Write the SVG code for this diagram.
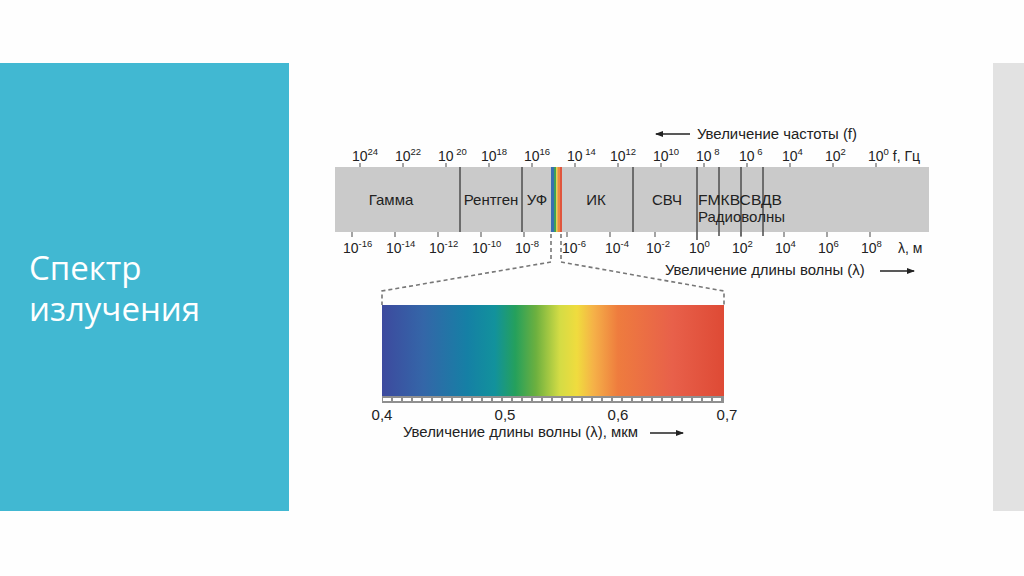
<svg xmlns="http://www.w3.org/2000/svg" width="1024" height="576" viewBox="0 0 1024 576">
<defs>
<style>
.t{font-family:"Liberation Sans",Arial,sans-serif;fill:#222;font-size:14px}
.s{font-size:9.5px}
.b{font-size:15px}
.l{font-size:14.9px}
.tick{stroke:#666;stroke-width:1.2}
.div{stroke:#555;stroke-width:1.6}
.dash{fill:none;stroke:#777;stroke-width:1.6;stroke-dasharray:4 3}
.arr{stroke:#222;stroke-width:1.3;fill:none}
</style>
<linearGradient id="vis" x1="0" x2="1" y1="0" y2="0">
<stop offset="0" stop-color="#3d4a9e"/>
<stop offset="0.12" stop-color="#3466a8"/>
<stop offset="0.25" stop-color="#1580a5"/>
<stop offset="0.33" stop-color="#12929c"/>
<stop offset="0.39" stop-color="#25a05c"/>
<stop offset="0.45" stop-color="#6cb03f"/>
<stop offset="0.52" stop-color="#d4dc45"/>
<stop offset="0.57" stop-color="#f0dc3e"/>
<stop offset="0.62" stop-color="#f5b048"/>
<stop offset="0.69" stop-color="#ee7c3e"/>
<stop offset="0.85" stop-color="#e8604a"/>
<stop offset="1" stop-color="#de4a35"/>
</linearGradient>
<marker id="ah" markerWidth="8" markerHeight="6" refX="7" refY="3" orient="auto" markerUnits="userSpaceOnUse">
<path d="M0,0 L8,3 L0,6 Z" fill="#222"/>
</marker>
</defs>
<rect width="1024" height="576" fill="#fefefe"/>
<rect id="left-panel" x="0" y="63" width="289" height="448" fill="#41b8d2"/>
<rect id="right-panel" x="993" y="63" width="31" height="448" fill="#e2e2e2"/>
<g id="title" font-family="'Open Sans','Noto Sans',sans-serif" font-size="33" fill="#ffffff">
<text x="29" y="280">Спектр</text>
<text x="29" y="321">излучения</text>
</g>

<g id="freq-axis">
<line class="arr" x1="690" y1="134" x2="656" y2="134" marker-end="url(#ah)"/>
<text class="t l" x="697" y="139">Увеличение частоты (f)</text>
<g class="tick">
<line x1="360" y1="163" x2="360" y2="168"/><line x1="403" y1="163" x2="403" y2="168"/><line x1="446" y1="163" x2="446" y2="168"/><line x1="489" y1="163" x2="489" y2="168"/><line x1="532" y1="163" x2="532" y2="168"/><line x1="575" y1="163" x2="575" y2="168"/><line x1="618" y1="163" x2="618" y2="168"/><line x1="661" y1="163" x2="661" y2="168"/><line x1="704" y1="163" x2="704" y2="168"/><line x1="747" y1="163" x2="747" y2="168"/><line x1="790" y1="163" x2="790" y2="168"/><line x1="833" y1="163" x2="833" y2="168"/><line x1="876" y1="163" x2="876" y2="168"/>
</g>
<text class="t" x="352" y="161">10<tspan class="s" dy="-6">24</tspan></text>
<text class="t" x="395" y="161">10<tspan class="s" dy="-6">22</tspan></text>
<text class="t" x="438" y="161">10<tspan class="s" dy="-6"> 20</tspan></text>
<text class="t" x="481" y="161">10<tspan class="s" dy="-6">18</tspan></text>
<text class="t" x="524" y="161">10<tspan class="s" dy="-6">16</tspan></text>
<text class="t" x="567" y="161">10<tspan class="s" dy="-6"> 14</tspan></text>
<text class="t" x="610" y="161">10<tspan class="s" dy="-6">12</tspan></text>
<text class="t" x="653" y="161">10<tspan class="s" dy="-6">10</tspan></text>
<text class="t" x="696" y="161">10<tspan class="s" dy="-6"> 8</tspan></text>
<text class="t" x="739" y="161">10<tspan class="s" dy="-6"> 6</tspan></text>
<text class="t" x="782" y="161">10<tspan class="s" dy="-6">4</tspan></text>
<text class="t" x="825" y="161">10<tspan class="s" dy="-6">2</tspan></text>
<text class="t" x="868" y="161">10<tspan class="s" dy="-6">0</tspan><tspan dy="6"> f, Гц</tspan></text>
</g>

<g id="band">
<rect x="335" y="167" width="594" height="65" fill="#cacaca"/>
<g class="div">
<line x1="460" y1="167" x2="460" y2="232"/>
<line x1="522" y1="167" x2="522" y2="232"/>
<line x1="633" y1="167" x2="633" y2="232"/>
<line x1="697" y1="167" x2="697" y2="240"/>
<line x1="719" y1="167" x2="719" y2="236"/>
<line x1="741" y1="167" x2="741" y2="236"/>
<line x1="763" y1="167" x2="763" y2="236"/>
</g>
<rect x="551" y="167" width="3" height="65" fill="#3a6fb0"/>
<rect x="554" y="167" width="2" height="65" fill="#3fa05a"/>
<rect x="556" y="167" width="1.5" height="65" fill="#e2d64a"/>
<rect x="557.5" y="167" width="2.5" height="65" fill="#ef8a3e"/>
<rect x="560" y="167" width="2" height="65" fill="#e0553c"/>
</g>
<g id="labels">
<text class="t b" x="391" y="205" text-anchor="middle">Гамма</text>
<text class="t b" x="491" y="205" text-anchor="middle">Рентген</text>
<text class="t b" x="537" y="205" text-anchor="middle">УФ</text>
<text class="t b" x="596" y="205" text-anchor="middle">ИК</text>
<text class="t b" x="667" y="205" text-anchor="middle">СВЧ</text>
<text class="t b" x="698" y="205" textLength="84" lengthAdjust="spacingAndGlyphs">FMКВСВДВ</text>
<text class="t b" x="698" y="222">Радиоволны</text>
</g>

<g id="wave-axis">
<g class="tick">
<line x1="352" y1="232" x2="352" y2="237"/><line x1="395" y1="232" x2="395" y2="237"/><line x1="438" y1="232" x2="438" y2="237"/><line x1="481" y1="232" x2="481" y2="237"/><line x1="524" y1="232" x2="524" y2="237"/><line x1="567" y1="232" x2="567" y2="237"/><line x1="610" y1="232" x2="610" y2="237"/><line x1="655" y1="232" x2="655" y2="237"/><line x1="741" y1="232" x2="741" y2="237"/><line x1="784" y1="232" x2="784" y2="237"/><line x1="827" y1="232" x2="827" y2="237"/><line x1="870" y1="232" x2="870" y2="237"/>
</g>
<text class="t" x="343" y="253">10<tspan class="s" dy="-6">-16</tspan></text>
<text class="t" x="386" y="253">10<tspan class="s" dy="-6">-14</tspan></text>
<text class="t" x="429" y="253">10<tspan class="s" dy="-6">-12</tspan></text>
<text class="t" x="472" y="253">10<tspan class="s" dy="-6">-10</tspan></text>
<text class="t" x="515" y="253">10<tspan class="s" dy="-6">-8</tspan></text>
<text class="t" x="562" y="253">10<tspan class="s" dy="-6">-6</tspan></text>
<text class="t" x="605" y="253">10<tspan class="s" dy="-6">-4</tspan></text>
<text class="t" x="646" y="253">10<tspan class="s" dy="-6">-2</tspan></text>
<text class="t" x="689" y="253">10<tspan class="s" dy="-6">0</tspan></text>
<text class="t" x="732" y="253">10<tspan class="s" dy="-6">2</tspan></text>
<text class="t" x="775" y="253">10<tspan class="s" dy="-6">4</tspan></text>
<text class="t" x="818" y="253">10<tspan class="s" dy="-6">6</tspan></text>
<text class="t" x="861" y="253">10<tspan class="s" dy="-6">8</tspan></text>
<text class="t" x="898" y="253">λ, м</text>
<text class="t l" x="665" y="275">Увеличение длины волны (λ)</text>
<line class="arr" x1="880" y1="271" x2="914" y2="271" marker-end="url(#ah)"/>
</g>

<g id="connectors">
<path class="dash" d="M551,234 L551,262 L382,291 L382,305"/>
<path class="dash" d="M561,234 L561,262 L724,291 L724,305"/>
</g>

<g id="visible">
<rect x="382" y="305" width="342" height="91" fill="url(#vis)"/>
<rect x="382" y="396" width="342" height="7" fill="#8f8f8f"/>
<line x1="383" y1="399.5" x2="723" y2="399.5" stroke="#ffffff" stroke-width="3" stroke-dasharray="8 2"/>
<text class="t b" x="382" y="420" text-anchor="middle">0,4</text>
<text class="t b" x="505" y="420" text-anchor="middle">0,5</text>
<text class="t b" x="618" y="420" text-anchor="middle">0,6</text>
<text class="t b" x="727" y="420" text-anchor="middle">0,7</text>
<text class="t l" x="403" y="437">Увеличение длины волны (λ), мкм</text>
<line class="arr" x1="650" y1="433" x2="683" y2="433" marker-end="url(#ah)"/>
</g>
</svg>
